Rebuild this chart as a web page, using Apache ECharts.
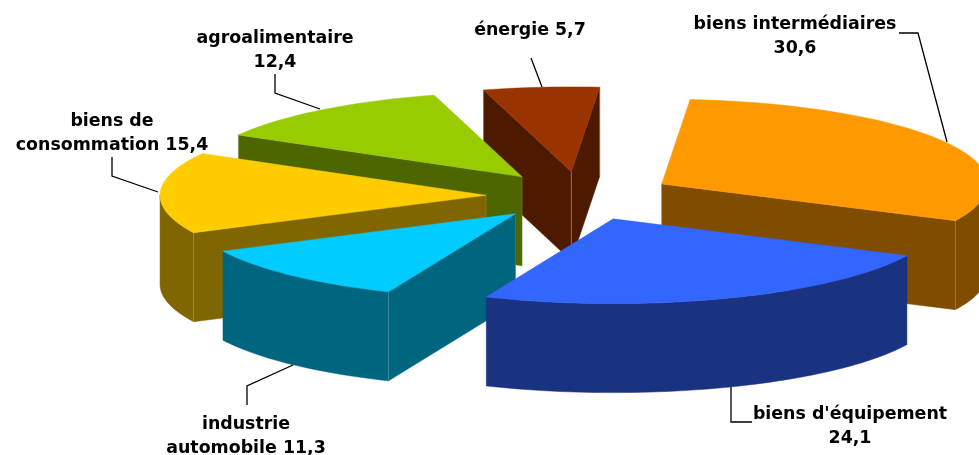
<!DOCTYPE html>
<html><head><meta charset="utf-8">
<style>html,body{margin:0;padding:0;background:#fff}#c{width:979px;height:455px}</style>
<script src="https://cdn.jsdelivr.net/npm/echarts@6/dist/echarts.min.js"></script>
</head><body><div id="c"></div>
<script>
const categories = ["biens intermédiaires","biens d'équipement","industrie\nautomobile","biens de\nconsommation","agroalimentaire","énergie"];
const values = [30.6,24.1,11.3,15.4,12.4,5.7];
const separators = ["\n","\n"," "," ","\n"," "];
const topColors = ["#FF9900","#3366FF","#00CCFF","#FFCC00","#99CC00","#993300"];
const wallColors = ["#804D00","#1A3380","#006680","#806600","#4D6600","#4D1A00"];

const total = values.reduce((a,b)=>a+b,0);
const C = {x:580,y:196,r:326,k:0.26,depth:89,explode:94,start:5};
const rad = d=>d*Math.PI/180;
const angles = []; { let a=C.start; values.forEach(v=>{const s=v/total*360; angles.push([a,a+s]); a+=s;}); }

const labelPos = [[795,12],[850,402],[246,412],[112,109],[275,26],[530,18]];
const leaders = [
 [[899,33],[918,33],[947,142]],
 [[752,422],[731,422],[731,387]],
 [[247,405],[247,386],[293,365]],
 [[112,157],[112,176],[158,192]],
 [[275,74],[275,93],[320,109]],
 [[531,58],[542,87]]
];

function renderItem(params, api){
  const i = params.dataIndex;
  const [a0,a1] = angles[i];
  const mid = rad((a0+a1)/2);
  const ax = C.x + C.explode*Math.sin(mid), ay = C.y - C.explode*C.k*Math.cos(mid);
  const pt = d=>[ax+C.r*Math.sin(rad(d)), ay-C.r*C.k*Math.cos(rad(d))];
  const dn = p=>[p[0],p[1]+C.depth];
  const z2 = Math.round(-Math.cos(mid)*100)+200;
  const arc = (s,e)=>{const n=Math.max(2,Math.ceil((e-s)/1.5)),o=[];for(let j=0;j<=n;j++)o.push(pt(s+(e-s)*j/n));return o;};
  const kids = [];
  const poly = (pts,fill)=>kids.push({type:'polygon',z2,silent:true,shape:{points:pts},style:{fill,stroke:fill,lineWidth:0.5}});
  const seam = (p,q,op)=>kids.push({type:'line',z2,silent:true,shape:{x1:p[0],y1:p[1],x2:q[0],y2:q[1]},style:{stroke:'rgba(255,255,255,'+op+')',lineWidth:1}});
  const wall = wallColors[i];
  const apex=[ax,ay];
  for (const [lo,hi] of [[90,270],[450,630]]) {
    const s=Math.max(a0,lo), e=Math.min(a1,hi);
    if (e>s){ const t=arc(s,e); poly(t.concat(t.map(dn).reverse()),wall); }
  }
  const startVisible = Math.sin(rad(a0))<0, endVisible = Math.sin(rad(a1))>0;
  if (startVisible){ const p=pt(a0); poly([apex,p,dn(p),dn(apex)],wall); seam(p,dn(p),0.18); }
  if (endVisible){ const p=pt(a1); poly([apex,p,dn(p),dn(apex)],wall); seam(p,dn(p),0.18); }
  if (startVisible&&endVisible) seam(apex,dn(apex),0.35);
  else if (startVisible||endVisible) seam(apex,dn(apex),0.12);
  poly([apex].concat(arc(a0,a1)),topColors[i]);
  return {type:'group',children:kids};
}

const graphics = [];
categories.forEach((c,i)=>{
  graphics.push({type:'text',x:labelPos[i][0],y:labelPos[i][1],z:10,silent:true,
    style:{text:c+separators[i]+String(values[i]).replace('.',','),textAlign:'center',textVerticalAlign:'top',font:'bold 17.4px "DejaVu Sans"',lineHeight:24,fill:'#000'}});
  graphics.push({type:'polyline',z:9,silent:true,shape:{points:leaders[i]},style:{stroke:'#000',lineWidth:1.3,fill:null}});
});

const chart = echarts.init(document.getElementById('c'),null,{renderer:'canvas'});
chart.setOption({
  animation:false,
  backgroundColor:'#fff',
  graphic:graphics,
  series:[{type:'custom',coordinateSystem:'none',silent:true,clip:false,
    data:values.map((v,i)=>({name:categories[i],value:v})),
    renderItem}]
});
</script></body></html>
